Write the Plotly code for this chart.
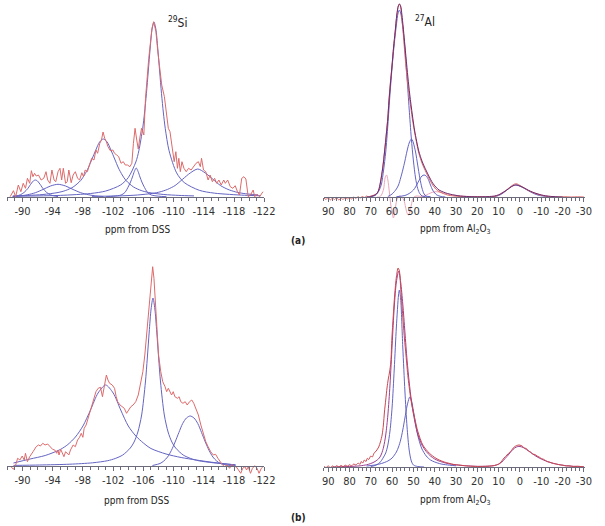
import plotly.graph_objects as go

W, H = 605, 526

# ---------------- 29Si (a) ----------------
si_a_exp_ppm = [-88.36, -88.80, -89.09, -89.44, -89.78, -90.09, -90.39, -90.65, -90.95, -91.17, -91.38, -91.59, -91.81,
                -92.11, -92.46, -92.81, -93.11, -93.33, -93.63, -93.89, -94.18, -94.40, -94.70, -94.96, -95.18, -95.40,
                -95.70, -95.92, -96.13, -96.44, -96.70, -96.99, -97.29, -97.55, -97.86, -98.07, -98.29, -98.59, -98.85,
                -99.16, -99.46, -99.72, -99.94, -100.23, -100.45, -100.66, -100.88, -101.10, -101.31, -101.62, -101.96,
                -102.18, -102.47, -102.73, -103.04, -103.34, -103.60, -103.90, -104.21, -104.47, -104.68, -104.90,
                -105.12, -105.32, -105.55, -105.76, -106.06, -106.28, -106.71, -107.14, -107.36, -107.66, -107.91,
                -108.23, -108.43, -108.78, -109.08, -109.30, -109.52, -109.73, -110.08, -110.30, -110.51, -110.69,
                -110.89, -111.11, -111.37, -111.67, -111.98, -112.32, -112.67, -112.97, -113.28, -113.54, -113.70,
                -113.96, -114.26, -114.57, -114.83, -115.13, -115.43, -115.69, -116.00, -116.30, -116.64, -116.85,
                -117.16, -117.50, -117.85, -118.15, -118.46, -118.72, -119.02, -119.31, -119.57, -119.88, -120.18,
                -120.53, -120.74, -121.05, -121.39, -121.83]
si_a_exp = [0.3, 6.3, 0.3, 12, 5.3, 13.7, 8.7, 18.7, 13.7, 26.3, 20.3, 23.7, 21,
            22, 17, 18.7, 25.3, 17, 13.7, 27, 17, 15.3, 25.3, 28.7, 17, 28.7,
            13.7, 15.3, 27, 14.3, 22, 25.3, 18.7, 17, 24.3, 20.3, 27, 25.3, 32,
            38.7, 37, 47, 43.7, 53.7, 57, 65, 58.7, 55.3, 50.3, 46.3, 47,
            43.7, 42, 40.3, 33.7, 35.3, 32, 32, 30.3, 33.7, 53.7, 68.7,
            57, 48, 60, 68.7, 62, 98.7, 138.7, 168.7, 175.3, 165.3, 145.3,
            127, 112, 100.3, 82, 68.7, 65.3, 52, 35.3, 45.3, 28.7, 38.7,
            25.3, 35.3, 28.7, 25.3, 28.7, 27, 30.3, 33.7, 35.3, 30.3, 38.7,
            27, 25.3, 17, 22, 15.3, 18.7, 13.7, 17, 12, 17, 13.7,
            17, 10.3, 8.7, 11.3, 5.3, 2, 18.7, 20.3, 18, 0.3, 2,
            7, 0.3, 2.7, 0.3, 5.3]

si_a_p1_ppm = [-88.7, -89.2, -89.7, -90.2, -90.7, -90.95, -91.2, -91.45, -91.7, -91.95, -92.2, -92.45, -92.7, -93.2, -93.7, -94.2, -94.7]
si_a_p1 = [0.4, 1, 2.2, 4.5, 8.5, 11.3, 14, 16.2, 17, 16.2, 14, 11.3, 8.5, 4.5, 2.2, 1, 0.4]

si_a_p2_ppm = [-88.7, -89.7, -90.7, -91.7, -92.7, -93.7, -94.7, -95.7, -96.7, -97.7, -98.7, -99.7, -100.7]
si_a_p2 = [0.5, 1.1, 2.3, 4.3, 7.5, 11, 12.7, 11, 7.5, 4.3, 2.3, 1.1, 0.5]

si_a_p3_ppm = [-88.7, -90.7, -92.7, -94.7, -95.7, -96.7, -97.7, -98.2, -98.7, -99.2, -99.7, -100.2, -100.7,
               -101.2, -101.7, -102.2, -102.7, -103.2, -103.7, -104.7, -105.7, -106.7, -108.7, -110.7, -112.7]
si_a_p3 = [1.1, 1.6, 2.5, 4.5, 6.5, 10, 16.5, 22, 29, 38, 47, 55, 58,
           55, 47, 38, 29, 22, 16.5, 10, 6.5, 4.5, 2.5, 1.6, 1.1]

si_a_p4_ppm = [-101.05, -102.05, -103.05, -103.55, -104.05, -104.3, -104.55, -104.8, -105.05, -105.3, -105.55, -105.8, -106.05, -106.55, -107.05, -108.05, -109.05]
si_a_p4 = [0.3, 0.8, 2, 4.5, 11, 15, 20, 25.5, 29, 25.5, 20, 15, 11, 4.5, 2, 0.8, 0.3]

si_a_p5_ppm = [-89, -95, -99, -101, -103, -104, -105, -105.4, -105.9, -106.15, -106.4, -106.65, -106.9, -107.15, -107.4,
               -107.65, -107.9, -108.15, -108.4, -108.65, -108.9, -109.4, -110.4, -111.4, -113.4, -115.4, -119.4, -121.5]
si_a_p5 = [0.74, 1.62, 3.5, 5.95, 12.1, 19.4, 35, 46.3, 68.3, 84, 103.3, 126, 149, 168, 175,
           168, 149, 126, 103.3, 84, 68.3, 46.3, 24.1, 14.5, 6.7, 3.85, 1.73, 1.26]

si_a_p6_ppm = [-99.2, -103.2, -105.2, -107.2, -108.2, -109.2, -110.2, -111.2, -112.2, -113.2, -114.2, -115.2, -116.2, -117.2, -118.2, -119.2, -121.2]
si_a_p6 = [0.6, 1.2, 2.0, 3.6, 5.1, 7.6, 11.5, 17.8, 24, 28, 24, 17.8, 11.5, 7.6, 5.1, 3.6, 2.0]

# ---------------- 29Si (b) ----------------
si_b_exp_ppm = [-88.48, -88.80, -89.09, -89.35, -89.65, -89.96, -90.22, -90.39, -90.65, -90.95, -91.39, -91.81, -92.11,
                -92.37, -92.68, -92.98, -93.33, -93.67, -93.98, -94.27, -94.53, -94.70, -94.83, -95.05, -95.27, -95.48,
                -95.70, -95.92, -96.13, -96.35, -96.70, -96.99, -97.29, -97.55, -97.77, -97.99, -98.16, -98.42, -98.72,
                -99.03, -99.37, -99.72, -100.01, -100.32, -100.58, -100.79, -101.10, -101.31, -101.53, -101.88, -102.18,
                -102.40, -102.60, -102.91, -103.17, -103.47, -103.77, -104.03, -104.34, -104.64, -104.99, -105.32,
                -105.63, -105.93, -106.19, -106.49, -106.80, -107.06, -107.23, -107.40, -107.58, -107.79, -108.01,
                -108.30, -108.56, -108.87, -109.08, -109.30, -109.52, -109.73, -109.95, -110.17, -110.51, -110.73,
                -110.95, -111.24, -111.54, -111.80, -112.11, -112.41, -112.67, -112.97, -113.28, -113.61, -113.96,
                -114.26, -114.57, -114.91, -115.26, -115.56, -115.87, -116.13, -116.42, -116.72, -117.07, -117.42,
                -117.72, -118.02, -118.28, -118.59, -118.89, -119.15, -119.44, -119.66, -119.88, -120.18, -120.44,
                -120.74, -121.05, -121.31, -121.61, -121.83]
si_b_exp = [-0.7, -3.3, 1, 7.7, 6, 10, 6, 12.7, 4.3, 9.3, 14.3, 19.3, 21,
            20, 22.7, 21, 22, 18.7, 16.7, 16, 12.7, 16, 11, 16.7, 12.7, 9.3,
            14.3, 12.7, 11, 16, 21, 19.3, 26, 28.7, 32.7, 28.7, 37.7, 41, 49.3,
            56, 66, 74.3, 77.7, 78.7, 69.3, 79.3, 91, 86, 82.7, 81, 77.7,
            69.3, 64.3, 61, 59.3, 57.7, 52.7, 56, 59.3, 61, 64.3, 71,
            82.7, 94.3, 111, 137.7, 167.7, 191, 199.3, 187.7, 161, 134.3, 111,
            94.3, 84.3, 79.3, 74.3, 77.7, 74.3, 71, 74.3, 69.3, 67.7, 69.3,
            64.3, 62.7, 64.3, 61, 64.3, 66, 62.7, 57.7, 51, 41, 31,
            24.3, 19.3, 14.3, 11, 11.7, 7.7, 4.3, 1.7, -0.7, 1, -2.3,
            1.7, -0.7, -0.7, -4, -7.3, -2.3, -0.7, -4, -0.7, -7.3, -2.3,
            0.3, -2.3, -7.3, -2.3, -0.7]

si_b_q1_ppm = [-88.8, -91, -93, -95, -96, -97, -98, -99, -100, -101, -102, -103, -104, -105, -106, -107, -109, -111, -113, -115, -116.5, -118.2]
si_b_q1 = [3, 7, 10.5, 16.5, 21.5, 29, 40, 56, 73, 81, 73, 56, 40, 30, 23, 17.5, 12, 8.5, 6, 3.8, 2.5, 1]

si_b_q2_ppm = [-88.8, -92.27, -96.27, -99.27, -101.27, -102.27, -103.27, -104.27, -104.77, -105.27, -105.77, -106.27, -106.52,
               -106.77, -107.02, -107.27, -107.52, -107.77, -108.02, -108.27, -108.77, -109.27, -109.77, -110.27, -111.27,
               -112.27, -113.27, -115.27, -118.2]
si_b_q2 = [0.6, 1.0, 1.8, 3.2, 5.3, 7.5, 11, 18, 24, 34, 51, 84, 108,
           134, 157, 168, 157, 134, 108, 84, 51, 34, 24, 18, 11,
           7.5, 5.3, 3.2, 1.2]

si_b_q3_ppm = [-107.2, -108.2, -108.7, -109.2, -109.7, -110.2, -110.7, -111.2, -111.7, -112.2, -112.7, -113.2, -113.7, -114.2, -114.7, -115.2, -115.7, -116.2, -117.2, -118.2]
si_b_q3 = [0.5, 2.5, 5, 9, 15.5, 24, 33.5, 42.5, 48, 50, 48, 42.5, 33.5, 24, 15.5, 9, 5, 2.5, 0.8, 0.3]

# ---------------- 27Al (a) ----------------
al_a_exp_ppm = [92, 91, 90, 89, 88, 87, 86, 85, 84, 83, 82, 81, 80, 79, 78, 77, 76, 75, 74, 73, 72, 71, 70, 69, 68, 67,
                66.3, 65.5, 64.4, 63.5, 62.7, 62, 61.5, 60.8, 60.1, 59.3, 58.6, 57.8, 57.1, 56.6, 56, 55.4, 54.8, 53.5,
                52.6, 51.7, 50.5, 49.4, 47.5, 46, 44.8, 43, 41, 39.5, 38, 36, 34, 31, 28, 24, 20, 16, 13, 11, 10, 8.5,
                7, 5.5, 4, 2.5, 1.5, 0, -2, -4, -6, -8, -10, -12, -15, -18, -21, -24, -27, -30]
al_a_exp = [-1, -2.5, -0.5, -3, -1, -2.5, -0.5, -3, -1, -2.5, -0.5, -2, -0.5, -2, 0, -1.5, 0.5, -1, 0.5, -0.5, 1, 0, 1, 1.5, 2.5, 4,
            7, 15, 30, 47, 64, 80, 97, 115, 130, 150, 164, 182, 191, 193, 190, 178, 164, 130,
            112, 97, 78, 64, 44, 34, 28, 20, 12, 8, 5.5, 3.5, 2, 1, 0.5, 0, 0.3, 0, 0.3, 1, 2, 4,
            6, 8.5, 11, 13, 13.2, 11.5, 9, 6.5, 4.5, 3, 1.8, 1, 0.3, 0, 0.3, 0, 0.2, 0]

al_a_fit_ppm = [72, 70, 68, 67, 66.3, 65.5, 64.4, 63.5, 62.7, 62, 61.5, 60.8, 60.1, 59.3, 58.6, 57.8, 57.1, 56.6, 56, 55.4,
                54.8, 53.5, 52.6, 51.7, 50.5, 49.4, 47.5, 46, 44.8, 43, 41, 39.5, 38, 36, 34, 31, 28, 25, 20, 15, 12, 10,
                8.5, 7, 5.5, 4, 2.5, 1.5, 0, -2, -4, -6, -8, -10, -12, -15, -20]
al_a_fit = [0, 0.5, 2, 4, 7, 14, 29, 46, 63, 79, 95, 113, 130, 150, 165, 182, 191, 193, 191, 182,
            170, 140, 120, 102, 82, 66, 46, 36, 30, 22, 14, 10, 7, 5, 3.5, 2, 1, 0.5, 0.2, 0.4, 1, 2.2,
            3.8, 5.8, 8, 10.3, 11.8, 12, 11, 9, 6.7, 4.8, 3.3, 2.1, 1.2, 0.5, 0]

al_a_c1_ppm = [70, 68, 67, 66, 65, 64, 63, 62, 61, 60, 59, 58, 57.2, 56.6, 56, 55, 54, 53, 52, 51, 50, 49, 48, 47, 46, 44, 42]
al_a_c1 = [0.3, 1.5, 3.5, 7, 13, 27, 45, 72, 103, 130, 153, 172, 184, 187, 184, 170, 148, 119, 88, 59, 36, 19, 8.5, 3.3, 1.1, 0.2, 0]

al_a_c2_ppm = [62, 60, 58, 57, 56, 55, 54, 53, 52, 51, 50.5, 50, 49, 48, 47, 46, 45, 44, 42]
al_a_c2 = [0.5, 3, 8, 12, 19, 27, 36, 46, 54, 58, 57, 54, 45, 32, 19, 9, 3, 1, 0.2]

al_a_c3_ppm = [58, 54, 52, 50, 49, 48, 47, 46, 45, 44, 43, 42, 41, 40, 39, 37, 35]
al_a_c3 = [0.3, 1.5, 3.5, 7, 10, 14, 18, 21, 22, 21, 17.5, 12, 7, 4, 2, 0.5, 0]

al_a_c4_ppm = [14, 11, 9, 7, 5, 3.5, 2, 0.5, -1, -3, -5, -7, -9, -12, -16]
al_a_c4 = [0, 0.8, 2.5, 5.5, 9, 11.3, 12, 11.2, 9.8, 7.4, 5, 3, 1.6, 0.6, 0]

al_a_res_ppm = [67, 66, 65, 64, 63.2, 62.6, 62, 61.3, 60.6, 59.9, 59.4, 58.8, 58.2, 57.5, 56.5, 55.5, 54.5, 53.7, 53, 52.4,
                51.7, 51, 50.3, 49.5, 48, 46, 44, 42, 40, 38, 36, 33, 30, 26, 22, 18, 14]
al_a_res = [0, 0, 2, 8, 20, 22, 17, 5, -8, -17, -21, -16, -7, -1, 1, 0, -3, -10, -16, -18,
            -15, -8, -2, 0.5, 1, 0.5, 2, 4, 5.3, 5, 4, 2.5, 1.5, 0.8, 0.3, 0.3, 0]

# ---------------- 27Al (b) ----------------
al_b_exp_ppm = [92, 91, 90, 89, 88, 87, 86, 85, 84, 83, 82, 81, 80, 79, 78, 77, 76, 75, 74.5, 73.8, 73, 72.3, 71.6, 71, 70,
                69.3, 68.5, 67.5, 66.3, 65.5, 64.7, 64.1, 63.6, 63, 62.4, 61.8, 61.2, 60.6, 60.1, 59.5, 58.8, 58, 57.2,
                56.6, 56, 55.4, 54.8, 54.2, 53.5, 52.5, 51, 49.4, 47.9, 45.6, 42.5, 40, 37.9, 35.5, 33.3, 31, 28.7, 26,
                24, 20, 17, 15, 12, 10, 8.9, 7.5, 6.1, 5, 4, 3, 2, 1.5, 0.5, -0.5, -1, -2, -3, -4, -5, -6, -7, -8, -9,
                -10, -11, -12, -13, -14, -15, -16.5, -18, -20, -21.8, -23, -25, -27, -30]
al_b_exp = [0.5, -0.5, 1, -0.5, 1, -0.3, 1.3, 0, 1.5, 0.3, 1.8, 0.8, 2.2, 1.2, 3, 2, 3.8, 2.8, 5.5, 4, 7, 5.5, 8.7, 7.5, 11,
            10, 13.7, 16, 20, 25, 32, 42, 55, 67, 79, 88, 95, 105, 129, 150, 172, 190, 199,
            196, 180, 162, 145, 128, 112, 89, 65, 48.7, 35.3, 22, 13.7, 9.5, 7, 5, 3.7, 2.5, 2, 1.3,
            1, 0.5, 0.6, 0.8, 1.5, 3, 5, 9, 12, 14.5, 16.5, 19.5, 21, 21.5, 22, 21.5, 21, 19, 18.5, 16, 15, 13, 12.5, 11, 10,
            8.5, 7.8, 6.5, 5.3, 4.8, 4, 3.2, 2.5, 1.8, 1, 1.2, 0.5, 0.8, 0]

al_b_fit_ppm = [88, 85, 80, 75, 72, 70, 68, 66, 65, 64, 63, 62, 61, 60, 59, 58, 56.9, 56, 55, 54, 53, 52, 51, 50, 49, 48, 47,
                46, 44, 42, 40, 38, 35, 32, 28, 24, 20, 15, 12, 10, 8.5, 7, 5.5, 4, 2.5, 1, 0, -1.5, -3, -5, -7, -9, -11,
                -13, -15, -18, -21, -25, -30]
al_b_fit = [0, 0.2, 0.5, 1.2, 2.2, 3.5, 5.5, 9, 13, 20, 32, 52, 82, 122, 160, 185, 196, 185, 163, 135, 107, 85, 67, 53, 42, 33, 27,
            22, 15.5, 11, 8, 6, 4, 2.7, 1.7, 1, 0.7, 0.8, 1.5, 2.8, 5, 8.5, 12, 16, 19, 20.5, 20.5, 19.5, 17.5, 14.5, 11.5, 9, 7,
            5.3, 4, 2.5, 1.5, 0.7, 0.2]

al_b_c1_ppm = [70, 68, 66, 65, 64, 63, 62, 61, 60, 59, 58, 57, 56.6, 56, 55, 54, 53, 52, 51, 50, 48, 45]
al_b_c1 = [0.5, 1.5, 4, 6.5, 10, 14, 22, 36, 60, 98, 140, 172, 177, 168, 120, 76, 40, 17, 6, 2, 0.5, 0]

al_b_c2_ppm = [72, 68, 65, 62, 60, 58, 57, 56, 55, 54, 53, 52, 51.7, 51, 50, 49, 48, 47, 46, 44, 42, 40, 37, 33, 30]
al_b_c2 = [1, 2, 3.5, 6, 9, 15, 20, 27, 37, 49, 61, 69, 70, 67, 56, 43, 32, 24, 18, 11, 7, 5, 3, 1.8, 1.2]

# ---------------- ticks & labels ----------------
si_tickvals = [-90, -94, -98, -102, -106, -110, -114, -118, -122]
si_ticktext = ["-90", "-94", "-98", "-102", "-106", "-110", "-114", "-118", "-122"]
si_minor = list(range(-88, -123, -1))
al_tickvals = [90, 80, 70, 60, 50, 40, 30, 20, 10, 0, -10, -20, -30]
al_ticktext = ["90", "80", "70", "60", "50", "40", "30", "20", "10", "0", "-10", "-20", "-30"]
al_minor = list(range(92, -31, -2))

RED = '#dd6a6a'
BLUE = '#6464c4'
DARK = '#6e2d6e'
PINK = '#eca6ba'
AX = '#6b6b7b'
FONT = 'DejaVu Sans Condensed, Liberation Sans Narrow, Roboto'

fig = go.Figure()


def add(x, y, color, ax, shape='linear', width=1.0):
    fig.add_trace(go.Scatter(x=x, y=y, mode='lines', xaxis='x' + ax, yaxis='y' + ax,
                             line=dict(color=color, width=width, shape=shape, smoothing=0.8),
                             hoverinfo='skip', showlegend=False))


# Si (a)
for xs, ys in [(si_a_p1_ppm, si_a_p1), (si_a_p2_ppm, si_a_p2), (si_a_p3_ppm, si_a_p3),
               (si_a_p4_ppm, si_a_p4), (si_a_p5_ppm, si_a_p5), (si_a_p6_ppm, si_a_p6)]:
    add(xs, ys, BLUE, '', 'spline')
add(si_a_exp_ppm, si_a_exp, RED, '')
# Al (a)
add(al_a_res_ppm, al_a_res, PINK, '2', 'spline')
for xs, ys in [(al_a_c1_ppm, al_a_c1), (al_a_c2_ppm, al_a_c2), (al_a_c3_ppm, al_a_c3), (al_a_c4_ppm, al_a_c4)]:
    add(xs, ys, BLUE, '2', 'spline')
add(al_a_exp_ppm, al_a_exp, RED, '2', 'spline')
add(al_a_fit_ppm, al_a_fit, DARK, '2', 'spline')
# Si (b)
for xs, ys in [(si_b_q1_ppm, si_b_q1), (si_b_q2_ppm, si_b_q2), (si_b_q3_ppm, si_b_q3)]:
    add(xs, ys, BLUE, '3', 'spline')
add(si_b_exp_ppm, si_b_exp, RED, '3')
# Al (b)
for xs, ys in [(al_b_c1_ppm, al_b_c1), (al_b_c2_ppm, al_b_c2)]:
    add(xs, ys, BLUE, '4', 'spline')
add(al_b_fit_ppm, al_b_fit, '#9a3f8f', '4', 'spline')
add(al_b_exp_ppm, al_b_exp, '#c9474f', '4', 'spline')


def fx(px):
    return px / W


def fy(py):
    return 1 - py / H


def xax(p0, p1, rng, base_py, tv, tt, mv):
    return dict(domain=[fx(p0), fx(p1)], range=rng, anchor='free', position=fy(base_py),
                showline=True, linecolor=AX, linewidth=1, ticks='outside', ticklen=4, tickcolor=AX,
                tickmode='array', tickvals=tv, ticktext=tt,
                tickfont=dict(family=FONT, size=11, color='#333333'),
                minor=dict(tickmode='array', tickvals=mv, ticks='outside', ticklen=3, tickcolor=AX),
                showgrid=False, zeroline=False, fixedrange=True)


def yax(top_py, bot_py, base_py):
    return dict(domain=[fy(bot_py), fy(top_py)], range=[base_py - bot_py, base_py - top_py],
                visible=False, showgrid=False, zeroline=False, fixedrange=True)


fig.update_layout(
    width=W, height=H, margin=dict(l=0, r=0, t=0, b=0),
    paper_bgcolor='white', plot_bgcolor='rgba(0,0,0,0)',
    xaxis=xax(5, 268, [-87.93, -122.0], 197, si_tickvals, si_ticktext, si_minor),
    yaxis=yax(0, 215, 197),
    xaxis2=xax(329, 596, [92.0, -30.6], 197, al_tickvals, al_ticktext, al_minor),
    yaxis2=dict(yax(0, 225, 197), anchor='x2'),
    xaxis3=xax(5, 268, [-87.93, -122.0], 466, si_tickvals, si_ticktext, si_minor),
    yaxis3=dict(yax(255, 480, 466), anchor='x3'),
    xaxis4=xax(329, 596, [92.0, -30.6], 467, al_tickvals, al_ticktext, al_minor),
    yaxis4=dict(yax(255, 480, 467), anchor='x4'),
)


def ann(text, px, py, size=10, bold=False):
    fig.add_annotation(text=('<b>%s</b>' % text) if bold else text, x=fx(px), y=fy(py),
                       xref='paper', yref='paper', showarrow=False, xanchor='center', yanchor='middle',
                       font=dict(family=FONT, size=size, color='#222222'))


ann('<sup>29</sup>Si', 179, 22, 12)
ann('<sup>27</sup>Al', 432, 21, 12)
ann('ppm from DSS', 138, 229, 10)
ann('ppm from Al<sub>2</sub>O<sub>3</sub>', 463, 229, 10)
ann('ppm from DSS', 137, 500, 10)
ann('ppm from Al<sub>2</sub>O<sub>3</sub>', 463, 500, 10)
ann('(a)', 303, 240, 10, True)
ann('(b)', 303, 517, 10, True)

fig.write_html('out.html', config={'displayModeBar': False},
               post_script="document.body.style.margin='0px';document.body.style.overflow='hidden';")
